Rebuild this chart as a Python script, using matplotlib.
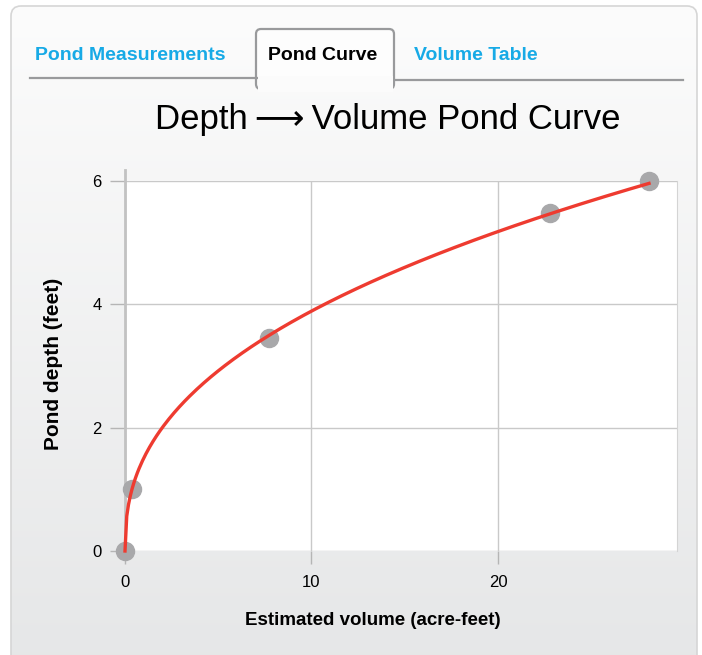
import numpy as np
import matplotlib.pyplot as plt
from matplotlib.patches import FancyBboxPatch
from matplotlib.lines import Line2D
from matplotlib.colors import LinearSegmentedColormap

volume = [0.0, 0.37, 7.7, 22.8, 28.1]   # acre-feet
depth = [0.0, 1.0, 3.45, 5.48, 6.0]     # feet

x_ticks = [0, 10, 20]
y_ticks = [0, 2, 4, 6]
tabs = ["Pond Measurements", "Pond Curve", "Volume Table"]

# power-law curve fitted to the non-zero points
v = np.array(volume[1:])
d = np.array(depth[1:])
b, log_a = np.polyfit(np.log(v), np.log(d), 1)
curve_v = np.linspace(0, max(volume), 300)
curve_d = np.exp(log_a) * curve_v ** b

plt.rcParams['font.family'] = ['Liberation Sans', 'DejaVu Sans']

fig = plt.figure(figsize=(7.02, 6.55), dpi=100)
W, H = 702, 655

# background card with soft gradient
bg = fig.add_axes([0, 0, 1, 1])
bg.set_xlim(0, W)
bg.set_ylim(H, 0)
bg.axis('off')
card = FancyBboxPatch((11, 6), 686, 680, boxstyle="round,pad=0,rounding_size=10",
                      fc='none', ec='#d6d6d6', lw=1.2, zorder=2)
bg.add_patch(card)
grad = np.linspace(0, 1, 256).reshape(-1, 1)
cmap = LinearSegmentedColormap.from_list('g', ['#fcfcfc', '#e5e6e7'])
img = bg.imshow(grad, extent=[11, 697, 686, 6], cmap=cmap, aspect='auto', zorder=1)
img.set_clip_path(card)

# tabs
tab_col = '#999a9c'
tab = FancyBboxPatch((256, 29), 138, 60, boxstyle="round,pad=0,rounding_size=5",
                     fc='#fdfdfd', ec=tab_col, lw=1.6, zorder=3)
bg.add_patch(tab)
bg.add_line(Line2D([30, 257], [78, 78], color=tab_col, lw=1.6, zorder=5))
bg.add_line(Line2D([393, 683], [80, 80], color=tab_col, lw=1.6, zorder=5))
bg.add_patch(plt.Rectangle((257.5, 76), 135, 16, fc='#fbfbfb', ec='none', zorder=6))

bg.text(35, 55, tabs[0], color='#17aae6', fontsize=14, fontweight='bold', va='center', ha='left')
bg.text(268, 55, tabs[1], color='black', fontsize=14, fontweight='bold', va='center', ha='left', zorder=7)
bg.text(414, 55, tabs[2], color='#17aae6', fontsize=14, fontweight='bold', va='center', ha='left')

bg.text(388, 119, "Depth\u2009\u27f6\u2009Volume Pond Curve", fontsize=25, ha='center', va='center')

# chart
ax = fig.add_axes([125 / W, 1 - 551 / H, 552 / W, 370 / H])
ax.set_facecolor('white')
ax.set_xlim(0, 29.6)
ax.set_ylim(0, 6)
ax.set_xticks(x_ticks)
ax.set_yticks(y_ticks)
ax.grid(True, color='#c9c9c9', lw=1)
ax.set_axisbelow(True)
for s in ['top', 'bottom', 'left']:
    ax.spines[s].set_visible(False)
ax.spines['right'].set_color('#d4d4d4')
ax.axvline(0, ymin=-0.01, ymax=1.03, color='#c2c2c2', lw=2, clip_on=False, zorder=1)
ax.tick_params(axis='both', colors='#b5b5b5', labelcolor='black', labelsize=12, width=1)
ax.tick_params(axis='y', length=11, pad=6)
ax.tick_params(axis='x', length=9, pad=8)

ax.plot(volume, depth, 'o', color='#a8a8aa', ms=13, clip_on=False, zorder=3)
ax.plot(curve_v, curve_d, color='#ee3b30', lw=2.4, clip_on=False, zorder=4)

ax.set_xlabel("Estimated volume (acre-feet)", fontsize=13.5, fontweight='bold')
ax.set_ylabel("Pond depth (feet)", fontsize=15, fontweight='bold')
ax.xaxis.set_label_coords(0.449, -0.165)
ax.yaxis.set_label_coords(-0.112, 0.505)

fig.savefig('out.png', dpi=100)
